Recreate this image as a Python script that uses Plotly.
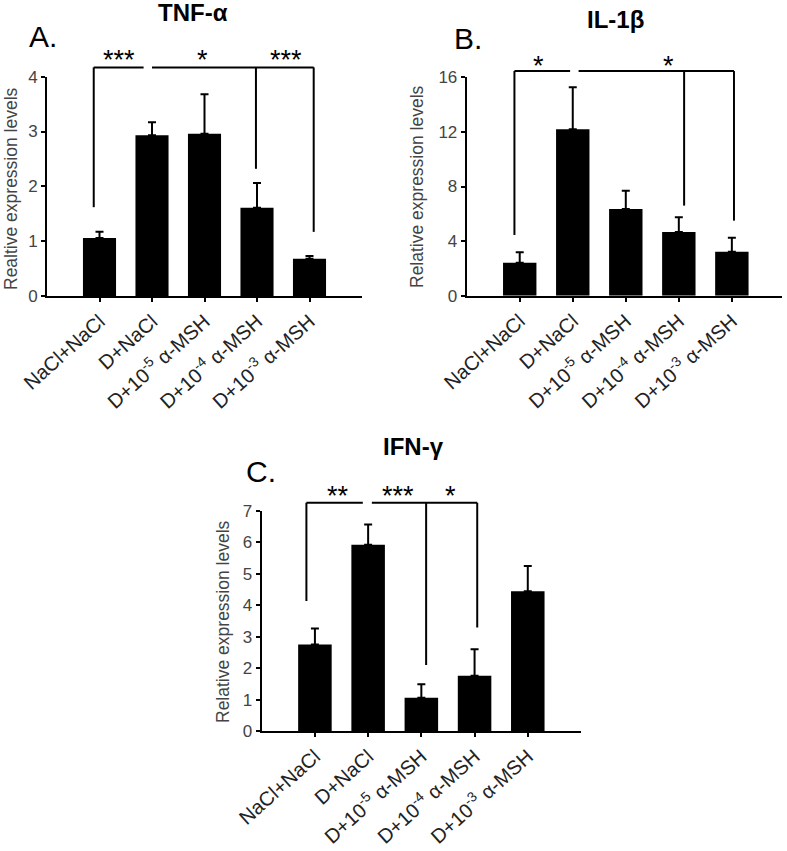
import plotly.graph_objects as go

# ---------------- data ----------------
categories = ["NaCl+NaCl", "D+NaCl",
              "D+10<sup>-5</sup> α-MSH",
              "D+10<sup>-4</sup> α-MSH",
              "D+10<sup>-3</sup> α-MSH"]

tnf_mean = [1.06, 2.93, 2.96, 1.61, 0.68]
tnf_err = [0.11, 0.24, 0.72, 0.45, 0.05]
tnf_ticks = [0, 1, 2, 3, 4]

il1b_mean = [2.42, 12.19, 6.35, 4.67, 3.22]
il1b_err = [0.76, 3.08, 1.34, 1.07, 1.03]
il1b_ticks = [0, 4, 8, 12, 16]

ifng_mean = [2.75, 5.93, 1.06, 1.76, 4.45]
ifng_err = [0.51, 0.64, 0.43, 0.84, 0.80]
ifng_ticks = [0, 1, 2, 3, 4, 5, 6, 7]

# significance brackets (category units, value units)
tnf_brackets = [
    {"x": [-0.11, 0.84], "top": 4.17, "drops": [(-0.11, 1.62)]},
    {"x": [1.0, 4.08], "top": 4.17, "drops": [(2.98, 2.32), (4.08, 1.17)]},
]
tnf_stars = [("***", 0.38), ("*", 1.96), ("***", 3.55)]
tnf_star_y = 4.37

il1b_brackets = [
    {"x": [-0.10, 0.95], "top": 16.46, "drops": [(-0.10, 4.45)]},
    {"x": [1.11, 4.04], "top": 16.46, "drops": [(3.10, 6.6), (4.04, 5.5)]},
]
il1b_stars = [("*", 0.36), ("*", 2.81)]
il1b_star_y = 17.1

ifng_brackets = [
    {"x": [-0.16, 0.90], "top": 7.26, "drops": [(-0.16, 4.14)]},
    {"x": [1.07, 3.05], "top": 7.26, "drops": [(2.09, 2.1), (3.05, 3.29)]},
]
ifng_stars = [("**", 0.43), ("***", 1.57), ("*", 2.55)]
ifng_star_y = 7.61

W, H = 787, 851
FONT = "Liberation Sans, Arial, sans-serif"

def px(x):
    return x / W

def py(y):
    return 1 - y / H

fig = go.Figure()
shapes = []
annotations = []

panels = [
    dict(ax="", mean=tnf_mean, err=tnf_err, ticks=tnf_ticks, br=tnf_brackets,
         stars=tnf_stars, sy=tnf_star_y, xdom=[px(47), px(362)],
         ydom=[py(296), py(76.7)], xr=[-1, 5],
         title="TNF-α", tpos=(193, 13), letter="A.", lpos=(27, 36),
         ytitle="Realtive expression levels", ytpos=(11, 189)),
    dict(ax="2", mean=il1b_mean, err=il1b_err, ticks=il1b_ticks, br=il1b_brackets,
         stars=il1b_stars, sy=il1b_star_y, xdom=[px(466.7), px(781.7)],
         ydom=[py(295.7), py(77.3)], xr=[-1, 4.94],
         title="IL-1β", tpos=(615, 20), letter="B.", lpos=(452, 38),
         ytitle="Relative expression levels", ytpos=(417, 187)),
    dict(ax="3", mean=ifng_mean, err=ifng_err, ticks=ifng_ticks, br=ifng_brackets,
         stars=ifng_stars, sy=ifng_star_y, xdom=[px(261.7), px(581)],
         ydom=[py(731), py(511)], xr=[-1, 5],
         title="IFN-γ", tpos=(413, 447), letter="C.", lpos=(244, 471),
         ytitle="Relative expression levels", ytpos=(223, 622)),
]

for p in panels:
    a = p["ax"]
    xname, yname = "x" + a, "y" + a
    ymax = p["ticks"][-1]
    fig.add_trace(go.Bar(
        x=list(range(len(categories))), y=p["mean"], width=0.63,
        marker=dict(color="black", line=dict(width=0)),
        error_y=dict(type="data", array=p["err"], arrayminus=[0] * len(p["err"]),
                     symmetric=False, color="black", thickness=2, width=4),
        xaxis=xname, yaxis=yname, showlegend=False, hoverinfo="skip"))

    fig.update_layout(**{
        "xaxis" + a: dict(domain=p["xdom"], range=p["xr"], anchor=yname,
                          automargin=False,
                          tickvals=list(range(len(categories))), ticktext=categories,
                          tickangle=-42, ticks="outside", ticklen=4, tickwidth=1.5,
                          tickcolor="black", showline=True, linecolor="black",
                          linewidth=2, showgrid=False, zeroline=False,
                          tickfont=dict(family=FONT, size=20, color="#222")),
        "yaxis" + a: dict(domain=p["ydom"], range=[0, ymax], anchor=xname,
                          automargin=False,
                          tickvals=p["ticks"], ticks="outside", ticklen=4,
                          tickwidth=1.5, tickcolor="black", showline=True,
                          linecolor="black", linewidth=2, showgrid=False,
                          zeroline=False,
                          tickfont=dict(family=FONT, size=17, color="#444")),
    })

    for b in p["br"]:
        shapes.append(dict(type="line", xref=xname, yref=yname + " domain",
                           x0=b["x"][0], x1=b["x"][1],
                           y0=b["top"] / ymax, y1=b["top"] / ymax,
                           line=dict(color="black", width=2)))
        for (dx, dy) in b["drops"]:
            shapes.append(dict(type="line", xref=xname, yref=yname + " domain",
                               x0=dx, x1=dx, y0=b["top"] / ymax, y1=dy / ymax,
                               line=dict(color="black", width=2)))
    for (txt, sx) in p["stars"]:
        annotations.append(dict(text=txt, xref=xname, yref=yname + " domain",
                                x=sx, y=p["sy"] / ymax, yshift=-4,
                                showarrow=False, xanchor="center", yanchor="middle",
                                font=dict(family=FONT, size=27, color="black")))

    annotations.append(dict(text="<b>" + p["title"] + "</b>", xref="paper", yref="paper",
                            x=px(p["tpos"][0]), y=py(p["tpos"][1]), showarrow=False,
                            xanchor="center", yanchor="middle",
                            font=dict(family=FONT, size=24, color="black")))
    annotations.append(dict(text=p["letter"], xref="paper", yref="paper",
                            x=px(p["lpos"][0]), y=py(p["lpos"][1]), showarrow=False,
                            xanchor="left", yanchor="middle",
                            font=dict(family=FONT, size=30, color="black")))
    annotations.append(dict(text=p["ytitle"], xref="paper", yref="paper",
                            x=px(p["ytpos"][0]), y=py(p["ytpos"][1]), showarrow=False,
                            textangle=-90, xanchor="center", yanchor="middle",
                            font=dict(family=FONT, size=17.5, color="#444")))

fig.update_layout(template="none", width=W, height=H,
                  margin=dict(l=0, r=0, t=0, b=0, autoexpand=False),
                  paper_bgcolor="white", plot_bgcolor="white",
                  shapes=shapes, annotations=annotations, bargap=0.3,
                  showlegend=False)

# remove the page's default body margin so the figure sits at the window origin
fig.write_html("out.html", config={"displayModeBar": False},
               post_script="document.body.style.margin='0px';")
